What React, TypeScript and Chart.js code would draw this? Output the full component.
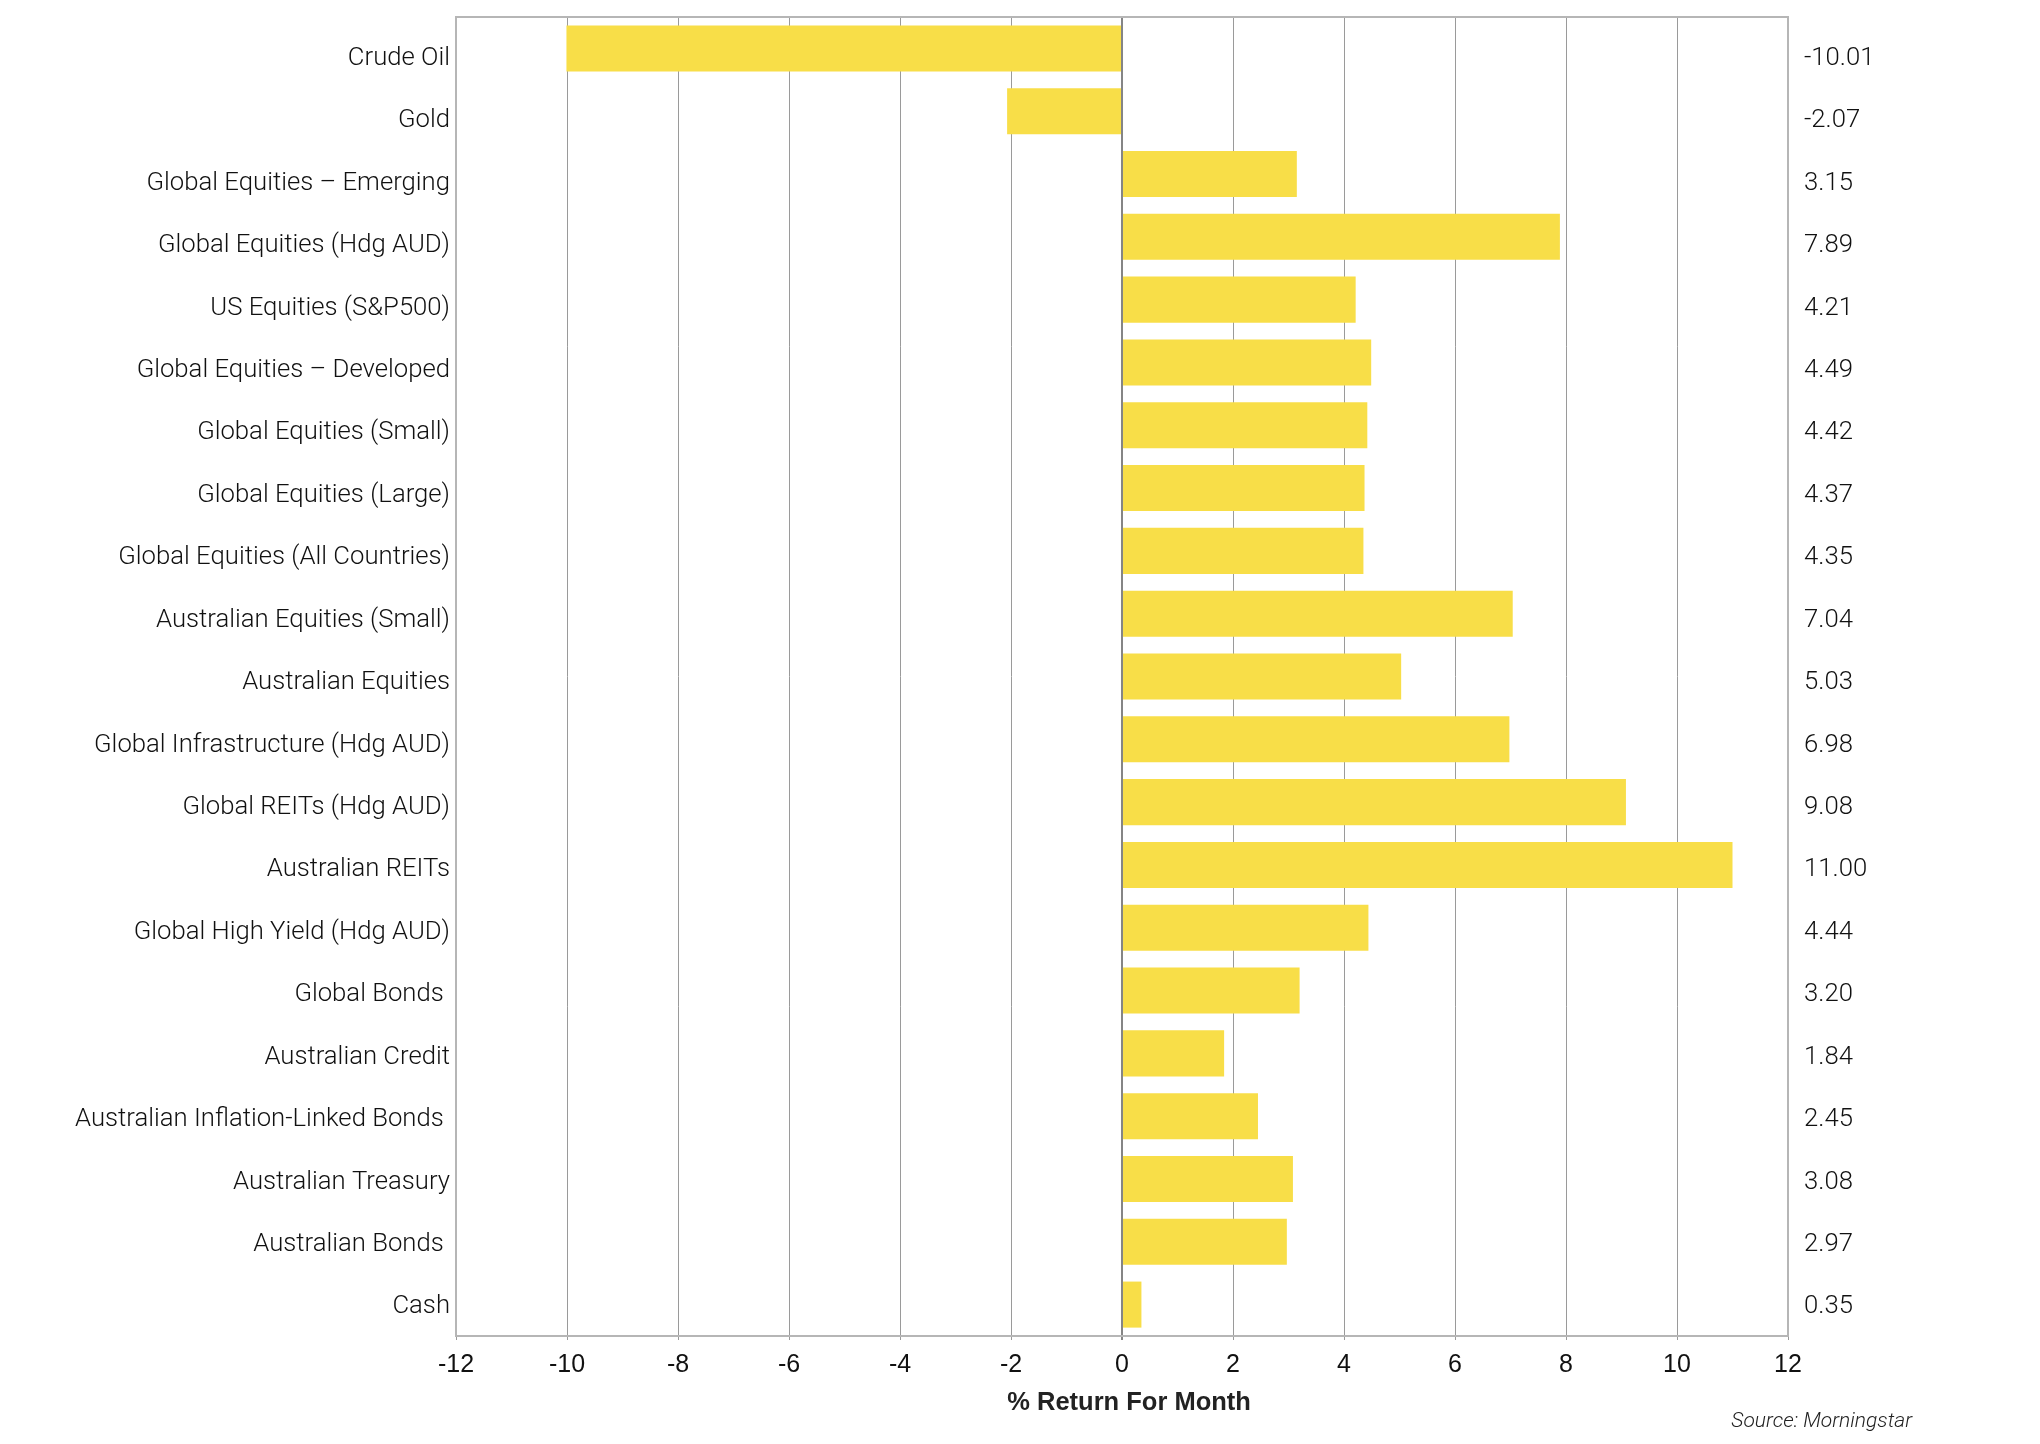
import React, { useEffect, useRef } from "react";
import { Chart, registerables } from "chart.js";

Chart.register(...registerables);

const categories = [
  "Crude Oil",
  "Gold",
  "Global Equities – Emerging",
  "Global Equities (Hdg AUD)",
  "US Equities (S&P500)",
  "Global Equities – Developed",
  "Global Equities (Small)",
  "Global Equities (Large)",
  "Global Equities (All Countries)",
  "Australian Equities (Small)",
  "Australian Equities",
  "Global Infrastructure (Hdg AUD)",
  "Global REITs (Hdg AUD)",
  "Australian REITs",
  "Global High Yield (Hdg AUD)",
  "Global Bonds ",
  "Australian Credit",
  "Australian Inflation-Linked Bonds ",
  "Australian Treasury",
  "Australian Bonds ",
  "Cash",
];

const returns = [
  -10.01, -2.07, 3.15, 7.89, 4.21, 4.49, 4.42, 4.37, 4.35, 7.04, 5.03, 6.98,
  9.08, 11.0, 4.44, 3.2, 1.84, 2.45, 3.08, 2.97, 0.35,
];

const valueLabels = returns.map((v) => v.toFixed(2));

const xMin = -12;
const xMax = 12;
const xStep = 2;

const axisTitle = "  % Return For Month";
const sourceText = "Source: Morningstar";

const FONT = "Roboto, 'Liberation Sans', Arial, sans-serif";
const TICK_FONT = "'Liberation Sans', Arial, sans-serif";
const BAR_COLOR = "#F8DE48";
const TEXT_COLOR = "#111111";

const zeroPad = (s: any) => {
  s.paddingTop = 0;
  s.paddingBottom = 0;
  s.paddingLeft = 0;
  s.paddingRight = 0;
};

export default function App() {
  const canvasRef = useRef<HTMLCanvasElement | null>(null);

  useEffect(() => {
    if (!canvasRef.current) return;

    const areaBorder = {
      id: "areaBorder",
      afterDatasetsDraw(chart: any) {
        const { ctx, chartArea: a } = chart;
        ctx.save();
        ctx.strokeStyle = "#b6b6b6";
        ctx.lineWidth = 2;
        ctx.strokeRect(a.left, a.top, a.right - a.left, a.bottom - a.top);
        ctx.restore();
      },
    };

    const labelMin = -0.665;
    const labelMax = 20.465;
    const labelFont = { family: FONT, size: 25.7, weight: 300 };

    const chart = new Chart(canvasRef.current, {
      type: "bar",
      data: {
        labels: categories,
        datasets: [
          {
            data: returns,
            backgroundColor: BAR_COLOR,
            borderWidth: 0,
            barPercentage: 0.733,
            categoryPercentage: 1,
            xAxisID: "x",
            yAxisID: "y",
          },
        ],
      },
      options: {
        indexAxis: "y",
        animation: false,
        responsive: true,
        maintainAspectRatio: false,
        layout: { padding: { top: 17, left: 0, right: 0, bottom: 0 } },
        plugins: {
          legend: { display: false },
          tooltip: { enabled: false },
          title: { display: false },
        },
        scales: {
          x: {
            type: "linear",
            position: "bottom",
            min: xMin,
            max: xMax,
            ticks: {
              stepSize: xStep,
              font: { family: TICK_FONT, size: 25 },
              color: TEXT_COLOR,
              padding: 10,
            },
            grid: {
              color: (c: any) =>
                c.tick && c.tick.value === 0 ? "#858585" : "#9a9a9a",
              lineWidth: (c: any) => (c.tick && c.tick.value === 0 ? 2 : 1),
              drawTicks: true,
              tickLength: 4,
            },
            border: { display: false },
            title: {
              display: true,
              text: axisTitle,
              font: { family: TICK_FONT, size: 25.5, weight: "bold" },
              color: "#222222",
              padding: { top: 0, bottom: 26 },
            },
            afterFit: (s: any) => {
              s.height = 108;
              zeroPad(s);
            },
          },
          y: {
            type: "category",
            display: false,
            offset: true,
          },
          yl: {
            type: "linear",
            position: "left",
            reverse: true,
            offset: false,
            bounds: "data",
            beginAtZero: false,
            min: labelMin,
            max: labelMax,
            afterBuildTicks: (s: any) => {
              s.ticks = categories.map((_, i) => ({ value: i }));
            },
            ticks: {
              autoSkip: false,
              padding: 6,
              font: labelFont,
              color: TEXT_COLOR,
              callback: (_v: any, i: number) => categories[i],
            },
            grid: { display: false, drawTicks: false, tickLength: 0, offset: false },
            border: { display: false },
            afterFit: (s: any) => {
              s.width = 456;
              zeroPad(s);
            },
          },
          yr: {
            type: "linear",
            position: "right",
            reverse: true,
            offset: false,
            bounds: "data",
            beginAtZero: false,
            min: labelMin,
            max: labelMax,
            afterBuildTicks: (s: any) => {
              s.ticks = valueLabels.map((_, i) => ({ value: i }));
            },
            ticks: {
              autoSkip: false,
              padding: 16,
              font: labelFont,
              color: TEXT_COLOR,
              callback: (_v: any, i: number) => valueLabels[i],
            },
            grid: { display: false, drawTicks: false, tickLength: 0, offset: false },
            border: { display: false },
            afterFit: (s: any) => {
              s.width = 252;
              zeroPad(s);
            },
          },
        },
      },
      plugins: [areaBorder],
    } as any);

    return () => {
      chart.destroy();
    };
  }, []);

  return (
    <div
      style={{
        position: "fixed",
        left: 0,
        top: 0,
        width: 2040,
        height: 1444,
        background: "#ffffff",
        overflow: "hidden",
      }}
    >
      <canvas ref={canvasRef} style={{ width: "100%", height: "100%" }} />
      <div
        style={{
          position: "absolute",
          right: 128,
          top: 1408,
          fontFamily: FONT,
          fontWeight: 300,
          fontStyle: "italic",
          fontSize: 21,
          lineHeight: "24px",
          color: "#222222",
          whiteSpace: "nowrap",
        }}
      >
        {sourceText}
      </div>
    </div>
  );
}
